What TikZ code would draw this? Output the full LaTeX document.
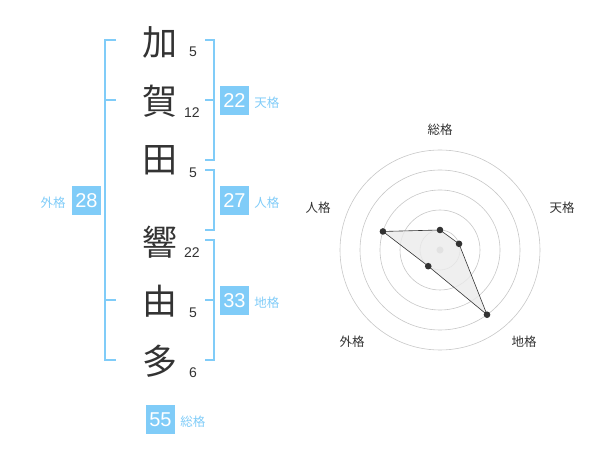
\documentclass[tikz,border=0pt]{standalone}
\usepackage{fontspec}
\setmainfont{Liberation Sans}
\newfontfamily\jp{Noto Sans CJK JP}
\usepackage{tikz}
\usetikzlibrary{positioning, calc}
\definecolor{kakublue}{RGB}{128,204,248}
\definecolor{inkgray}{RGB}{51,51,51}

\begin{document}
\begin{tikzpicture}[x=1pt, y=-1pt,
  kanji/.style={text=inkgray, font=\jp\fontsize{35}{35}\selectfont, inner sep=0pt},
  stroke/.style={text=inkgray, font=\fontsize{14}{14}\selectfont, inner sep=0pt},
  kakubox/.style={fill=kakublue, text=white, font=\fontsize{20}{20}\selectfont, minimum size=29pt, inner sep=0pt},
  kakulabel/.style={text=kakublue, font=\jp\fontsize{12.5}{12.5}\selectfont, inner sep=0pt},
  bracket/.style={draw=kakublue, line width=2pt},
  ring/.style={draw=black!22, line width=0.6pt},
  radarlabel/.style={text=inkgray, font=\jp\fontsize{12.5}{12.5}\selectfont, inner sep=0pt}]
\useasboundingbox (0,0) rectangle (600,470);

% name characters and stroke counts
\node[kanji] (c1) at (160,42) {加};
\node[kanji] (c2) at (160,101) {賀};
\node[kanji] (c3) at (160,160) {田};
\node[kanji] (c4) at (160,242) {響};
\node[kanji] (c5) at (160,301) {由};
\node[kanji] (c6) at (160,361) {多};
\node[stroke] (s1) at (193,52) {5};
\node[stroke] (s2) at (192,113) {12};
\node[stroke] (s3) at (193,173) {5};
\node[stroke] (s4) at (192,253) {22};
\node[stroke] (s5) at (193,313) {5};
\node[stroke] (s6) at (193,373) {6};

% brackets
\draw[bracket] (116,40) -| (105,360) -- (116,360);
\draw[bracket] (105,100) -- (116,100);
\draw[bracket] (105,300) -- (116,300);
\draw[bracket] (205,40) -| (214,160) -- (205,160);
\draw[bracket] (205,100) -- (214,100);
\draw[bracket] (205,170) -| (214,230) -- (205,230);
\draw[bracket] (205,240) -| (214,360) -- (205,360);
\draw[bracket] (205,300) -- (214,300);

% totals
\node[kakubox] (ten) at (234.5,100.5) {22};
\node[kakulabel, right=5pt of ten, yshift=-2pt] (tenl) {天格};
\node[kakubox] (jin) at (234.5,200.5) {27};
\node[kakulabel, right=5pt of jin, yshift=-2pt] (jinl) {人格};
\node[kakubox] (chi) at (234.5,300.5) {33};
\node[kakulabel, right=5pt of chi, yshift=-2pt] (chil) {地格};
\node[kakubox] (gai) at (86.5,200.5) {28};
\node[kakulabel, left=6pt of gai, yshift=-2pt] (gail) {外格};
\node[kakubox] (sou) at (160.5,419.5) {55};
\node[kakulabel, right=5pt of sou, yshift=-2pt] (soul) {総格};

% radar chart
\coordinate (c) at (440,250);
\draw[ring] (c) circle (20pt);
\draw[ring] (c) circle (40pt);
\draw[ring] (c) circle (60pt);
\draw[ring] (c) circle (80pt);
\draw[ring] (c) circle (100pt);
\fill[black!25] (c) circle (3.5pt);
\coordinate (psou) at ($(c)+(90:20pt)$);
\coordinate (pten) at ($(c)+(18:20pt)$);
\coordinate (pchi) at ($(c)+(-54:80pt)$);
\coordinate (pgai) at ($(c)+(-126:20pt)$);
\coordinate (pjin) at ($(c)+(162:60pt)$);
\draw[fill=black!8, fill opacity=0.8, draw=inkgray, line width=0.6pt]
  (psou) -- (pten) -- (pchi) -- (pgai) -- (pjin) -- cycle;
\fill[inkgray] (psou) circle (3.3pt);
\fill[inkgray] (pten) circle (3.3pt);
\fill[inkgray] (pchi) circle (3.3pt);
\fill[inkgray] (pgai) circle (3.3pt);
\fill[inkgray] (pjin) circle (3.3pt);
\node[radarlabel] (rsou) at (440,130) {総格};
\node[radarlabel] (rten) at (562,208) {天格};
\node[radarlabel] (rchi) at (524,342) {地格};
\node[radarlabel] (rgai) at (352,342) {外格};
\node[radarlabel] (rjin) at (318,208) {人格};
\end{tikzpicture}
\end{document}
